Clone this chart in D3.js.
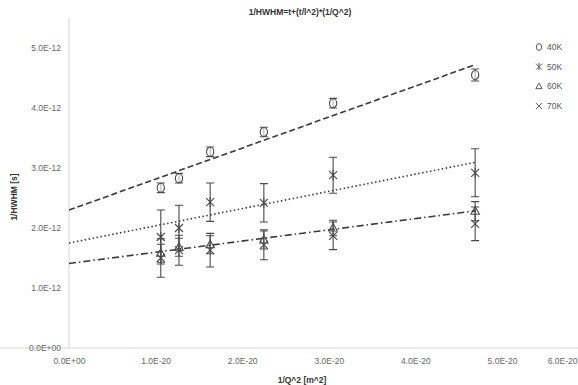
<!DOCTYPE html>
<html>
<head>
    <script src="https://cdn.jsdelivr.net/npm/d3@7"></script>
    <style>
        body { margin: 0; background: #fff; }
        text { font-family: "Liberation Sans", Arial, sans-serif; }
    </style>
</head>
<body>
    <svg width="578" height="385" id="mainsvg"></svg>
    <script>
        // data (x in 1e-20 m^2, y in 1e-12 s)
        const qInv = [1.06, 1.27, 1.63, 2.25, 3.05, 4.69];
        const series = ['40K', '50K', '60K', '70K'];
        const v40 = [2.67, 2.83, 3.27, 3.60, 4.08, 4.55];
        const v50 = [1.85, 2.00, 2.43, 2.42, 2.88, 2.92];
        const v60 = [1.58, 1.68, 1.72, 1.80, 2.00, 2.28];
        const v70 = [1.50, 1.63, 1.63, 1.72, 1.87, 2.07];
        const e40 = [0.08, 0.08, 0.08, 0.08, 0.08, 0.10];
        const e50 = [0.45, 0.38, 0.32, 0.32, 0.30, 0.40];
        const e60 = [0.15, 0.15, 0.15, 0.15, 0.13, 0.16];
        const e70 = [0.32, 0.25, 0.28, 0.25, 0.23, 0.28];
        const xTicks = [0, 1, 2, 3, 4, 5, 6];
        const yTicks = [0, 1, 2, 3, 4, 5];

        const svg = d3.select('svg');
        const xScale = d3.scaleLinear().domain([0, 6]).range([69, 588.6]);
        const yScale = d3.scaleLinear().domain([0, 5]).range([348, 48]);
        const fmt = (v, e) => v.toFixed(1) + (v === 0 ? 'E+00' : 'E-' + e);

        // axes
        const xAxis = d3.axisBottom(xScale).tickValues(xTicks).tickSize(0).tickPadding(10)
            .tickFormat(d => fmt(d, 20));
        const yAxis = d3.axisLeft(yScale).tickValues(yTicks).tickSize(0).tickPadding(8)
            .tickFormat(d => fmt(d, 12));
        const xg = svg.append('g').attr('transform', 'translate(0,348)').call(xAxis);
        const yg = svg.append('g').attr('transform', 'translate(69,0)').call(yAxis);
        [xg, yg].forEach(g => {
            g.select('.domain').attr('stroke', '#d4d4d4');
            g.selectAll('text').attr('fill', '#666').attr('font-size', 8.5).attr('font-family', '"Liberation Sans", Arial');
        });
        yg.select('.domain').attr('d', 'M0,18V348');
        xg.select('.domain').attr('d', 'M0,0H578');
        // last x label is pulled inside the right edge, as the chart does
        xg.selectAll('.tick').filter(d => d === 6).select('text')
            .attr('text-anchor', 'end').attr('x', 577 - xScale(6));

        // trend lines (least squares, extended to the y axis)
        const fit = ys => {
            const mx = d3.mean(qInv), my = d3.mean(ys);
            const b = d3.sum(qInv, (x, i) => (x - mx) * (ys[i] - my)) / d3.sum(qInv, x => (x - mx) ** 2);
            return [my - b * mx, b];
        };
        const trends = [[v40, '6,3'], [v50, '1.5,2.5'], [v60, '7,3,1.5,3']];
        trends.forEach(([ys, dash]) => {
            const [a, b] = fit(ys);
            const x1 = d3.max(qInv);
            svg.append('line')
                .attr('x1', xScale(0)).attr('y1', yScale(a))
                .attr('x2', xScale(x1)).attr('y2', yScale(a + b * x1))
                .attr('stroke', '#3a3a3a').attr('stroke-width', 1.6)
                .attr('stroke-dasharray', dash);
        });

        // marker shapes
        const shapes = {
            '40K': 'M0,-4.5A3.6,4.5 0 1,1 0,4.5A3.6,4.5 0 1,1 0,-4.5',
            '50K': 'M-4,-4L4,4M-4,4L4,-4M0,-5V5',
            '60K': 'M0,-4.5L4.2,3L-4.2,3Z',
            '70K': 'M-4,-4L4,4M-4,4L4,-4'
        };
        const vals = [v40, v50, v60, v70];
        const errs = [e40, e50, e60, e70];

        series.forEach((s, k) => {
            const g = svg.append('g').attr('stroke', '#4a4a4a').attr('fill', 'none').attr('stroke-width', 1.1);
            qInv.forEach((x, i) => {
                const cx = xScale(x), v = vals[k][i], e = errs[k][i];
                const y1 = yScale(v - e), y2 = yScale(v + e);
                g.append('path').attr('d', `M${cx},${y1}V${y2}M${cx - 4},${y1}H${cx + 4}M${cx - 4},${y2}H${cx + 4}`);
                g.append('path').attr('d', shapes[s])
                    .attr('transform', `translate(${cx},${yScale(v)})`)
                    .attr('fill', k === 0 ? 'rgba(255,255,255,0.6)' : 'none');
            });
        });

        // legend
        const legend = svg.append('g').attr('transform', 'translate(539,47)');
        series.forEach((s, k) => {
            const row = legend.append('g').attr('transform', `translate(0,${k * 19.7})`);
            row.append('path').attr('d', shapes[s]).attr('transform', 'scale(0.75)')
                .attr('stroke', '#555').attr('fill', 'none').attr('stroke-width', 1.3);
            row.append('text').attr('x', 8).attr('y', 3).attr('font-size', 8.5).attr('fill', '#555').text(s);
        });

        // titles
        svg.append('text').attr('x', 300).attr('y', 15).attr('text-anchor', 'middle')
            .attr('font-size', 8.5).attr('font-weight', 'bold').attr('fill', '#333')
            .text('1/HWHM=t+(t/l^2)*(1/Q^2)');
        svg.append('text').attr('transform', 'translate(17,197) rotate(-90)').attr('text-anchor', 'middle')
            .attr('font-size', 8.5).attr('font-weight', 'bold').attr('fill', '#333')
            .text('1/HWHM [s]');
        svg.append('text').attr('x', 302).attr('y', 383).attr('text-anchor', 'middle')
            .attr('font-size', 8.5).attr('font-weight', 'bold').attr('fill', '#333')
            .text('1/Q^2 [m^2]');
    </script>
</body>
</html>
